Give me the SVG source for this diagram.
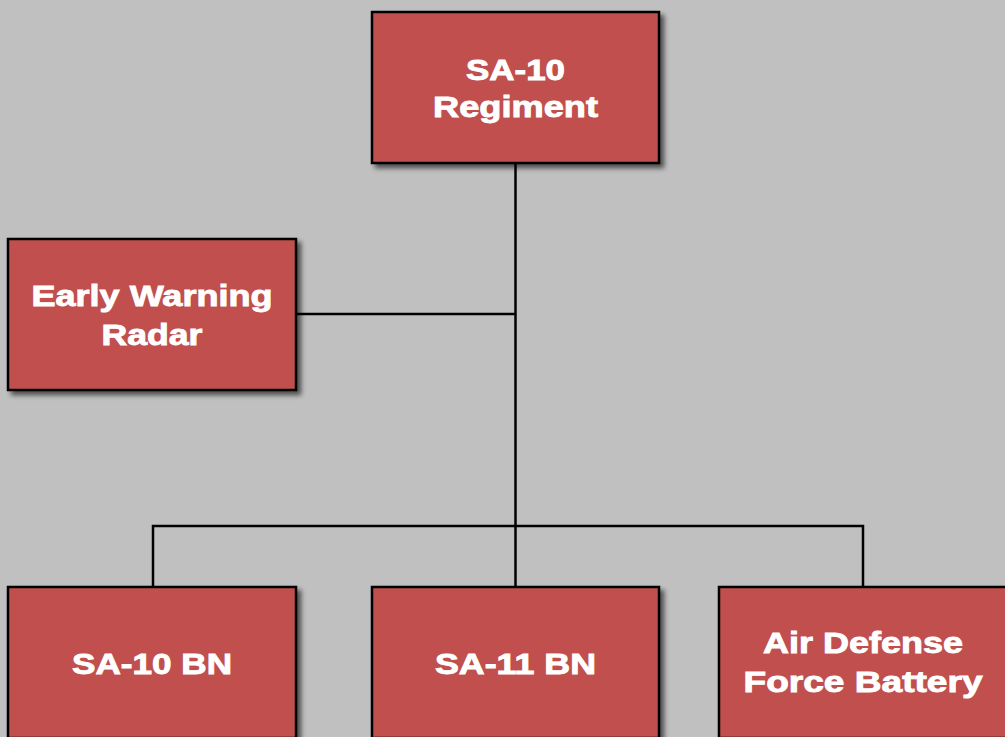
<svg xmlns="http://www.w3.org/2000/svg" width="1005" height="737" viewBox="0 0 1005 737">
<defs>
<filter id="sh" x="-10%" y="-10%" width="130%" height="130%">
<feGaussianBlur in="SourceAlpha" stdDeviation="2.5"/>
<feOffset dx="4" dy="4" result="b"/>
<feComponentTransfer><feFuncA type="linear" slope="0.6"/></feComponentTransfer>
<feMerge><feMergeNode/><feMergeNode in="SourceGraphic"/></feMerge>
</filter>
<style>
.box{fill:#c0504d;stroke:#000;stroke-width:2.5;filter:url(#sh)}
.t{fill:#fff;stroke:#fff;stroke-width:0.9;font-family:"Liberation Sans",Arial,sans-serif;font-weight:bold;font-size:30px;text-anchor:middle}
.c{fill:none;stroke:#000;stroke-width:2.5}
</style>
</defs>
<rect width="1005" height="737" fill="#c0c0c0"/>
<g id="connectors">
<path class="c" d="M515.5 163 V526"/>
<path class="c" d="M296 314 H515.5"/>
<path class="c" d="M153 587 V526 H863 V587"/>
<path class="c" d="M515.5 526 V587"/>
</g>
<g id="regiment">
<rect class="box" x="372" y="12" width="287" height="151"/>
<text class="t" x="515.5" y="80" textLength="99" lengthAdjust="spacingAndGlyphs">SA-10</text>
<text class="t" x="515.5" y="117" textLength="165" lengthAdjust="spacingAndGlyphs">Regiment</text>
</g>
<g id="ewr">
<rect class="box" x="8" y="239" width="288" height="151"/>
<text class="t" x="152" y="306" textLength="241" lengthAdjust="spacingAndGlyphs">Early Warning</text>
<text class="t" x="152" y="345" textLength="101" lengthAdjust="spacingAndGlyphs">Radar</text>
</g>
<g id="sa10bn">
<rect class="box" x="8" y="587" width="288" height="151"/>
<text class="t" x="152" y="674" textLength="160" lengthAdjust="spacingAndGlyphs">SA-10 BN</text>
</g>
<g id="sa11bn">
<rect class="box" x="372" y="587" width="287" height="151"/>
<text class="t" x="515.5" y="674" textLength="161" lengthAdjust="spacingAndGlyphs">SA-11 BN</text>
</g>
<g id="adfb">
<rect class="box" x="719" y="587" width="288" height="151"/>
<text class="t" x="863" y="653" textLength="200" lengthAdjust="spacingAndGlyphs">Air Defense</text>
<text class="t" x="863" y="692" textLength="239" lengthAdjust="spacingAndGlyphs">Force Battery</text>
</g>
</svg>
